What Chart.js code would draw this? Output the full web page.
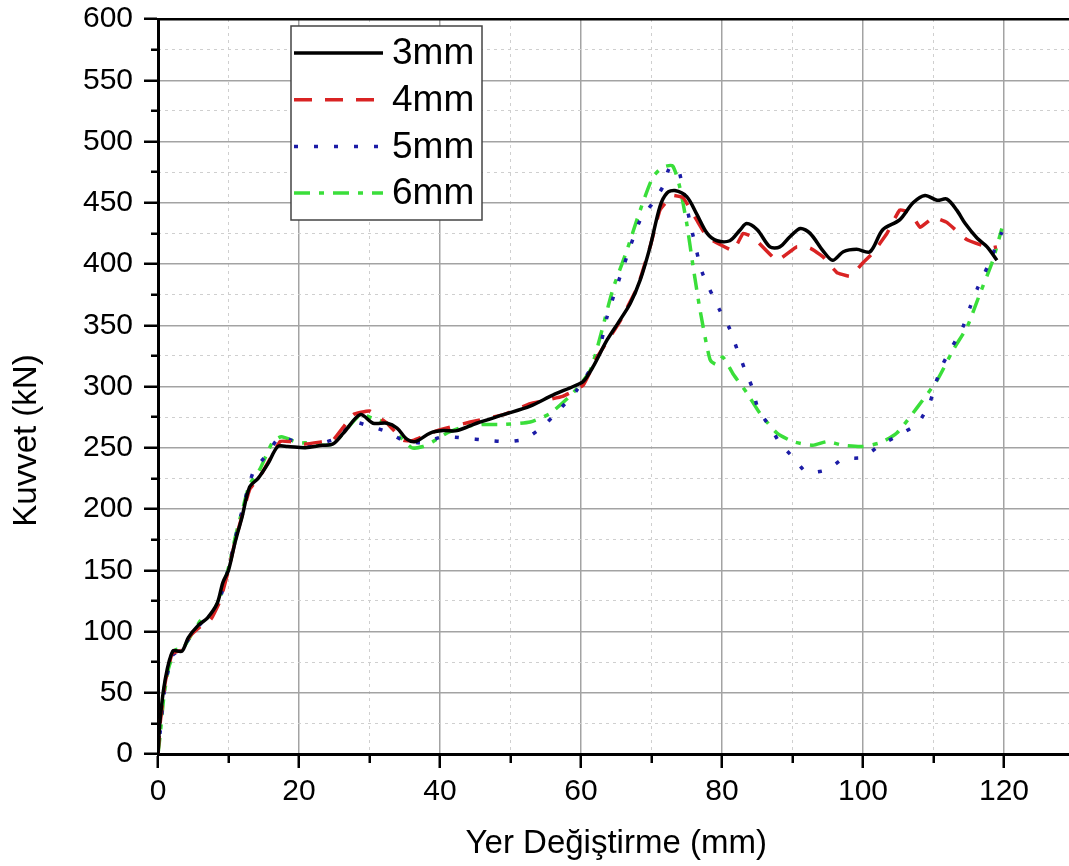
<!DOCTYPE html>
<html>
<head>
<meta charset="utf-8">
<script src="https://cdn.jsdelivr.net/npm/chart.js@4.4.1/dist/chart.umd.min.js"></script>
<style>
  html, body { margin: 0; padding: 0; background: #fff; }
  #wrap { width: 1069px; height: 866px; overflow: hidden; position: relative; }
</style>
</head>
<body>
<div id="wrap"><canvas id="chart" width="1090" height="866"></canvas></div>
<script>
// values (x = displacement mm, y = force kN)
const labels = ['3mm', '4mm', '5mm', '6mm'];

const x3mm = [0, 0.3, 1, 2.1, 3.4, 4.3, 5.7, 7, 8.4, 9.2, 10, 10.9, 11.9, 13, 14.2, 15.6, 17, 18.4, 20.9, 23.3,
  24.8, 26.3, 28.7, 30.5, 32.5, 33.9, 35.3, 36.5, 38.6, 40.4, 42.4, 45.2, 49, 52.8, 56, 58.9, 60.3, 61.7, 63.7, 65.5,
  67, 68.4, 69.8, 71.2, 72.2, 73.3, 75, 76.4, 77.9, 79.3, 81.1, 82.6, 83.5, 85, 86.8, 88.2, 89.6, 91.1, 92.5, 94.3,
  95.7, 97.2, 99.1, 101, 102.8, 105.2, 107.1, 108.8, 110.5, 111.9, 113.3, 114.5, 116.2, 117.6, 119];
const y3mm = [0, 28, 60, 84, 84, 95, 105, 111, 123, 140, 150, 172, 193, 218, 225, 237, 251, 251, 250, 252,
  253, 262, 277, 270, 270, 266, 257, 255, 262, 264, 264, 270, 277, 284, 293, 300, 304, 316, 338, 354,
  368, 387, 414, 447, 458, 460, 455, 441, 425, 419, 419, 428, 433, 428, 414, 414, 422, 429, 425, 411,
  403, 410, 412, 410, 428, 436, 450, 456, 452, 453, 444, 433, 421, 414, 403];

const x4mm = [0, 0.3, 1, 2, 3.4, 4.5, 6, 7.5, 8.8, 10, 11, 12, 13, 14.5, 16, 17.3, 18.7, 20.9, 23.4, 24.8,
  27.7, 30, 32.5, 34.8, 36.2, 39.6, 44.3, 49, 52.8, 57.4, 60.3, 62.3, 65.5, 68, 69.8, 71.2, 73, 74.5, 76.4, 77.9,
  79.7, 81.6, 83, 84.4, 87.8, 90.6, 92.5, 94.3, 96.3, 98.2, 100, 101.4, 103.4, 105.2, 106.7, 108.1, 110, 111.9, 114.7, 118, 119];
const y4mm = [0, 25, 58, 82, 85, 96, 104, 110, 125, 150, 175, 196, 216, 227, 242, 255, 255, 253, 255, 256,
  277, 280, 270, 256, 256, 264, 271, 277, 286, 292, 301, 324, 353, 381, 414, 444, 456, 454, 436, 422,
  416, 411, 425, 422, 403, 414, 413, 406, 393, 390, 401, 409, 425, 444, 442, 430, 438, 434, 420, 413, 414];

const x5mm = [0, 0.3, 1, 2, 3.4, 4.5, 6, 7.5, 8.8, 10, 11, 12, 13.5, 15.5, 17.3, 19, 21, 23.4, 25.4, 27.5,
  29.8, 32.5, 34.8, 37.6, 40.4, 43.3, 46.7, 49.5, 52, 54.5, 56.6, 59.4, 62.3, 63.7, 66.5, 68.4, 70.2, 71.6, 72.6, 73.8,
  74.5, 75.7, 77.2, 79.7, 81.1, 82.1, 83.3, 84.3, 85.1, 86.8, 88.2, 90.1, 92, 94.9, 97.2, 99.9, 102.4, 105, 107.8, 109.5,
  110.2, 111.3, 114.2, 115.2, 116.3, 117.6, 119.7];
const y5mm = [0, 18, 55, 80, 86, 95, 106, 112, 127, 152, 177, 200, 230, 245, 259, 256, 252, 254, 258, 271,
  268, 263, 256, 254, 259, 258, 256, 255, 257, 267, 279, 297, 324, 357, 406, 436, 450, 463, 479, 477,
  460, 428, 393, 362, 347, 331, 313, 299, 282, 267, 254, 242, 230, 232, 241, 242, 252, 260, 270, 287,
  301, 318, 349, 365, 381, 397, 426];

const x6mm = [0, 0.3, 0.8, 1.5, 2.5, 3.5, 5, 6.2, 7.5, 8.8, 10, 11, 12, 13, 14.5, 16.2, 17.5, 19.9, 20.9, 23,
  24.8, 26.3, 28.7, 30.5, 32.5, 34.3, 36, 37.6, 39, 41, 43.3, 46.1, 49, 52.8, 55.6, 58.9, 61.3, 62.7, 64.5, 66.5,
  68.4, 70.2, 71.6, 73, 74, 75, 75.9, 76.9, 78.3, 79.2, 80.1, 81.6, 83.5, 85.4, 87.8, 90.1, 92.9, 94.9, 97.2, 99.9,
  102.4, 104.8, 107.7, 110.5, 112.8, 114.8, 116.6, 118.3, 119.7];
const y6mm = [0, 15, 45, 70, 85, 86, 100, 110, 113, 128, 152, 178, 200, 220, 233, 254, 259, 254, 254, 252,
  253, 262, 277, 274, 270, 259, 250, 251, 255, 262, 267, 269, 269, 271, 278, 295, 313, 340, 379, 411,
  444, 471, 479, 480, 463, 433, 398, 362, 322, 318, 324, 310, 295, 278, 262, 255, 252, 255, 252, 251,
  254, 262, 283, 305, 330, 349, 376, 401, 429];

const xTicks = [0, 20, 40, 60, 80, 100, 120];
const yTicks = [0, 50, 100, 150, 200, 250, 300, 350, 400, 450, 500, 550, 600];

const FONT = "'Liberation Sans', Arial, sans-serif";

function pts(xs, ys) {
  return xs.map((x, i) => ({ x: x, y: ys[i] }));
}

const isMajorX = v => v % 20 === 0;
const isMajorY = v => v % 50 === 0;

// y axis title sits a bit below the middle in the original
const yTitlePlugin = {
  id: 'yTitle',
  afterDraw(chart) {
    const ctx = chart.ctx;
    const a = chart.chartArea;
    ctx.save();
    ctx.translate(27, (a.top + a.bottom) / 2 + 54);
    ctx.rotate(-Math.PI / 2);
    ctx.font = '33px ' + FONT;
    ctx.fillStyle = '#000';
    ctx.textAlign = 'center';
    ctx.textBaseline = 'middle';
    ctx.fillText('Kuvvet (kN)', 0, 0);
    ctx.restore();
  }
};

// boxed legend in the upper left of the plot
const legendBoxPlugin = {
  id: 'legendBox',
  afterDatasetsDraw(chart) {
    const ctx = chart.ctx;
    const a = chart.chartArea;
    const left = a.left + 133, top = a.top + 7, w = 191, h = 194;
    ctx.save();
    ctx.fillStyle = '#fff';
    ctx.fillRect(left, top, w, h);
    ctx.strokeStyle = '#444';
    ctx.lineWidth = 1.5;
    ctx.strokeRect(left, top, w, h);
    chart.data.datasets.forEach((ds, i) => {
      const y = top + 27 + i * 46.7;
      ctx.beginPath();
      ctx.setLineDash(ds.borderDash || []);
      ctx.strokeStyle = ds.borderColor;
      ctx.lineWidth = ds.borderWidth;
      ctx.moveTo(left + 3, y);
      ctx.lineTo(left + 92, y);
      ctx.stroke();
      ctx.setLineDash([]);
      ctx.fillStyle = '#000';
      ctx.font = '37px ' + FONT;
      ctx.textAlign = 'left';
      ctx.textBaseline = 'middle';
      ctx.fillText(ds.label, left + 101, y + 1);
    });
    ctx.restore();
  }
};

new Chart(document.getElementById('chart'), {
  type: 'line',
  data: {
    datasets: [
      { label: labels[0], data: pts(x3mm, y3mm), borderColor: '#000000', borderWidth: 3.5, tension: 0.3 },
      { label: labels[1], data: pts(x4mm, y4mm), borderColor: '#d92323', borderWidth: 3.5, borderDash: [18, 13], tension: 0.1 },
      { label: labels[2], data: pts(x5mm, y5mm), borderColor: '#1c1ca6', borderWidth: 3.5, borderDash: [4, 16], tension: 0.2 },
      { label: labels[3], data: pts(x6mm, y6mm), borderColor: '#3ade3a', borderWidth: 3.5, borderDash: [16, 9, 5, 9], tension: 0.2 }
    ]
  },
  options: {
    responsive: false,
    animation: false,
    devicePixelRatio: 1,
    layout: { padding: { left: 0, top: 19, right: 15.5, bottom: 0 } },
    elements: { point: { radius: 0 } },
    plugins: { legend: { display: false }, tooltip: { enabled: false } },
    scales: {
      x: {
        type: 'linear', position: 'bottom', min: 0, max: 130,
        afterFit: s => { s.height = 112; s.paddingLeft = 0; s.paddingRight = 0; },
        ticks: {
          stepSize: 10, padding: 6, color: '#000', maxRotation: 0, autoSkip: false,
          font: { family: FONT, size: 30 },
          callback: v => (xTicks.includes(v) ? String(v) : '')
        },
        grid: {
          color: c => (isMajorX(c.tick.value) ? '#a3a3a3' : 'rgba(0,0,0,0)'),
          lineWidth: 1.5, tickLength: 14, tickWidth: 2.5, tickColor: '#000',
          tickBorderDash: c => (isMajorX(c.tick.value) ? [] : [7, 100])
        },
        border: { color: '#000', width: 3 },
        title: { display: true, text: 'Yer Değiştirme (mm)', color: '#000', font: { family: FONT, size: 33 }, padding: { top: 0, bottom: 2 } }
      },
      xMinor: {
        type: 'linear', position: 'bottom', min: 0, max: 130,
        ticks: { display: false, stepSize: 10 },
        grid: { color: c => (isMajorX(c.tick.value) ? 'rgba(0,0,0,0)' : '#cfcfcf'), lineWidth: 1, drawTicks: false },
        border: { display: false, dash: [3, 4] }
      },
      xTop: {
        type: 'linear', position: 'top', min: 0, max: 130,
        ticks: { display: false },
        grid: { display: false, drawTicks: false },
        border: { color: '#000', width: 2.5 }
      },
      y: {
        type: 'linear', position: 'left', min: 0, max: 600,
        afterFit: s => { s.width = 158; s.paddingTop = 0; s.paddingBottom = 0; },
        ticks: {
          stepSize: 25, padding: 11, color: '#000', autoSkip: false,
          font: { family: FONT, size: 30 },
          callback: v => (yTicks.includes(v) ? String(v) : '')
        },
        grid: {
          color: c => (isMajorY(c.tick.value) ? '#a3a3a3' : 'rgba(0,0,0,0)'),
          lineWidth: 1.5, tickLength: 14, tickWidth: 2.5, tickColor: '#000',
          tickBorderDash: c => (isMajorY(c.tick.value) ? [] : [0, 7, 7, 100])
        },
        border: { color: '#000', width: 3 }
      },
      yMinor: {
        type: 'linear', position: 'left', min: 0, max: 600,
        ticks: { display: false, stepSize: 25 },
        grid: { color: c => (isMajorY(c.tick.value) ? 'rgba(0,0,0,0)' : '#cfcfcf'), lineWidth: 1, drawTicks: false },
        border: { display: false, dash: [3, 4] }
      }
    }
  },
  plugins: [yTitlePlugin, legendBoxPlugin]
});
</script>
</body>
</html>
